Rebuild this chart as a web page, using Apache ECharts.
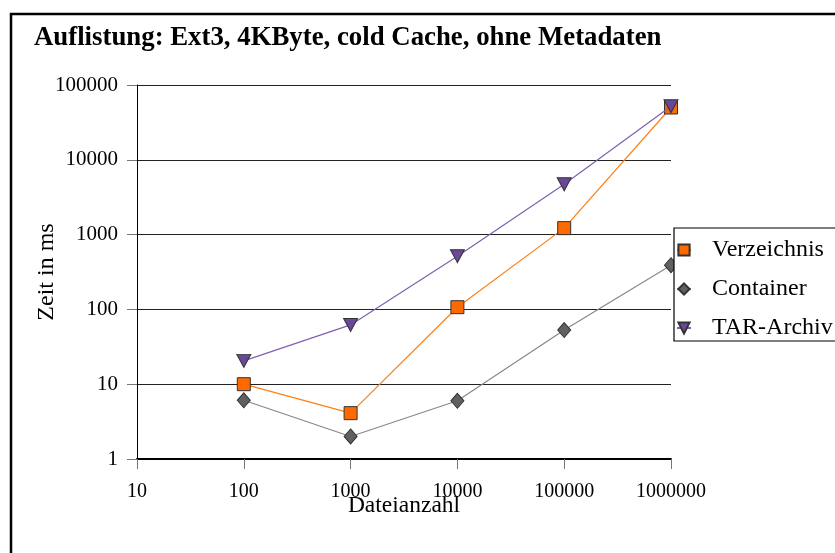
<!DOCTYPE html>
<html>
<head>
<meta charset="utf-8">
<script src="https://cdn.jsdelivr.net/npm/echarts@6/dist/echarts.min.js"></script>
<style>
  html, body { margin: 0; padding: 0; background: #fff; }
  #chart { width: 835px; height: 553px; }
</style>
</head>
<body>
<div id="chart"></div>
<script>
// File counts (x) and listing times in ms (y)
const fileCounts   = [100, 1000, 10000, 100000, 1000000];
const verzeichnis  = [10, 4.1, 107, 1220, 50000];
const container    = [6.1, 2.0, 6.0, 53, 390];
const tarArchiv    = [20.5, 62, 515, 4700, 52000];

const seriesNames  = ['Verzeichnis', 'Container', 'TAR-Archiv'];
const serif = '"Liberation Serif", "Times New Roman", serif';

function pairs(values) {
  return fileCounts.map((x, i) => [x, values[i]]);
}

const chart = echarts.init(document.getElementById('chart'), null, { renderer: 'canvas' });

chart.setOption({
  animation: false,
  backgroundColor: '#fff',
  textStyle: { fontFamily: serif },
  graphic: [{
    type: 'rect',
    shape: { x: 11, y: 14, width: 900, height: 600 },
    style: { fill: 'none', stroke: '#000', lineWidth: 2.5 },
    z: 100
  }, {
    type: 'text',
    left: 34, top: 25,
    style: {
      text: 'Auflistung: Ext3, 4KByte, cold Cache, ohne Metadaten',
      font: 'bold 26.8px ' + serif,
      fill: '#000'
    }
  }, {
    type: 'rect',
    shape: { x: 674, y: 228, width: 200, height: 113 },
    style: { fill: '#fff', stroke: '#000', lineWidth: 1.2 },
    z: 50
  }],
  grid: { left: 137, right: 164, top: 85, bottom: 94, containLabel: false },
  legend: {
    orient: 'vertical',
    left: 676, top: 238,
    padding: 0,
    itemGap: 15,
    itemWidth: 14, itemHeight: 14,
    textStyle: { fontFamily: serif, fontSize: 24, color: '#000', padding: [0, 0, 0, 16] },
    data: seriesNames,
    z: 60
  },
  xAxis: {
    type: 'log',
    logBase: 10,
    min: 10, max: 1000000,
    name: 'Dateianzahl',
    nameLocation: 'middle',
    nameGap: 35,
    nameMoveOverlap: false,
    nameTextStyle: { fontFamily: serif, fontSize: 23.5, color: '#000' },
    axisLine: { onZero: false, lineStyle: { color: '#000', width: 2 } },
    axisTick: { show: true, length: 10, lineStyle: { color: '#777', width: 1 } },
    axisLabel: {
      fontFamily: serif, fontSize: 20, color: '#000', margin: 23,
      formatter: v => String(Math.round(v))
    },
    splitLine: { show: false }
  },
  yAxis: {
    type: 'log',
    logBase: 10,
    min: 1, max: 100000,
    name: 'Zeit in ms',
    nameLocation: 'middle',
    nameGap: 78,
    nameMoveOverlap: false,
    nameTextStyle: { fontFamily: serif, fontSize: 24, color: '#000' },
    axisLine: { show: true, lineStyle: { color: '#000', width: 1 } },
    axisTick: { show: true, length: 10, lineStyle: { color: '#777', width: 1 } },
    axisLabel: {
      fontFamily: serif, fontSize: 21, color: '#000', margin: 19,
      formatter: v => String(Math.round(v))
    },
    splitLine: { show: true, lineStyle: { color: '#222', width: 1.2 } }
  },
  series: [{
    name: seriesNames[0],
    type: 'line',
    data: pairs(verzeichnis),
    symbol: 'rect',
    symbolSize: 13,
    lineStyle: { color: '#FF7F10', width: 1.2 },
    itemStyle: { color: '#FF6A00', borderColor: '#333', borderWidth: 1 },
    z: 3
  }, {
    name: seriesNames[1],
    type: 'line',
    data: pairs(container),
    symbol: 'diamond',
    symbolSize: [13, 15],
    lineStyle: { color: '#888', width: 1.2 },
    itemStyle: { color: '#606060', borderColor: '#333', borderWidth: 1 },
    z: 2
  }, {
    name: seriesNames[2],
    type: 'line',
    data: pairs(tarArchiv),
    symbol: 'triangle',
    symbolRotate: 180,
    symbolSize: [14, 13],
    lineStyle: { color: '#8060B0', width: 1.2 },
    itemStyle: { color: '#6A4898', borderColor: '#333', borderWidth: 1 },
    z: 4
  }]
});
</script>
</body>
</html>
